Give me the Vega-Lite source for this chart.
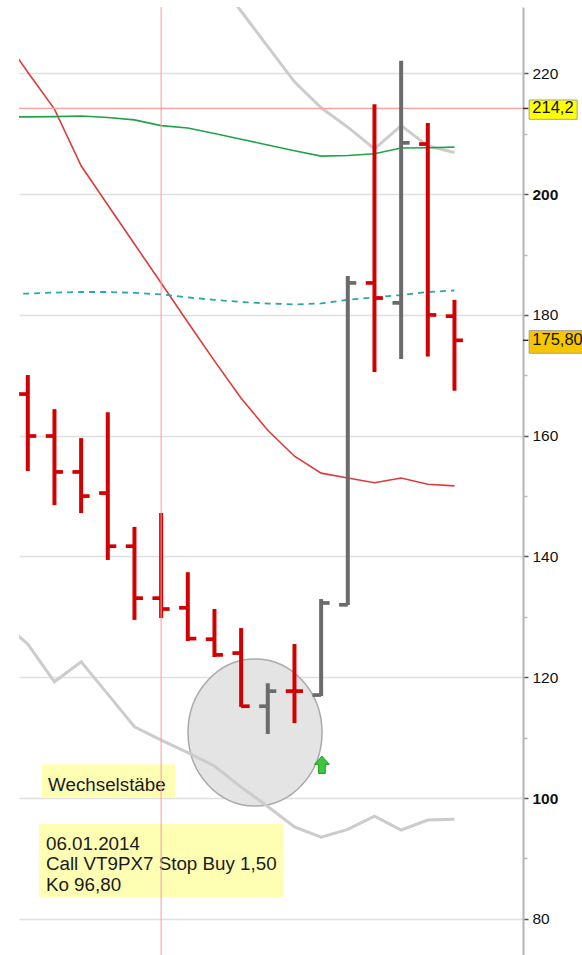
{
  "$schema": "https://vega.github.io/schema/vega-lite/v6.json",
  "width": 504,
  "height": 948,
  "autosize": {"type": "none"},
  "padding": {"left": 19, "top": 7, "right": 59, "bottom": 0},
  "background": "white",
  "config": {"view": {"stroke": null}, "font": "Liberation Sans"},
  "datasets": {
    "bars": [
      {"i": 0, "o": 166.9, "h": 170.05, "l": 154.15, "c": 159.95, "d": "down"},
      {"i": 1, "o": 159.95, "h": 164.4, "l": 148.5, "c": 154.0, "d": "down"},
      {"i": 2, "o": 154.0, "h": 159.6, "l": 147.2, "c": 150.0, "d": "down"},
      {"i": 3, "o": 150.5, "h": 163.9, "l": 139.4, "c": 141.7, "d": "down"},
      {"i": 4, "o": 141.7, "h": 144.9, "l": 129.5, "c": 133.1, "d": "down"},
      {"i": 5, "o": 133.1, "h": 147.2, "l": 129.8, "c": 131.3, "d": "down"},
      {"i": 6, "o": 131.5, "h": 137.4, "l": 126.0, "c": 126.4, "d": "down"},
      {"i": 7, "o": 126.3, "h": 131.3, "l": 123.35, "c": 123.7, "d": "down"},
      {"i": 8, "o": 124.0, "h": 128.15, "l": 115.1, "c": 115.2, "d": "down"},
      {"i": 9, "o": 115.2, "h": 119.0, "l": 110.6, "c": 117.7, "d": "up"},
      {"i": 10, "o": 117.7, "h": 125.5, "l": 112.4, "c": 117.7, "d": "down"},
      {"i": 11, "o": 117.05, "h": 132.95, "l": 116.9, "c": 132.3, "d": "up"},
      {"i": 12, "o": 132.0, "h": 186.45, "l": 131.96, "c": 185.3, "d": "up"},
      {"i": 13, "o": 185.3, "h": 214.9, "l": 170.55, "c": 182.8, "d": "down"},
      {"i": 14, "o": 182.0, "h": 222.1, "l": 172.7, "c": 208.5, "d": "up"},
      {"i": 15, "o": 208.3, "h": 211.8, "l": 173.1, "c": 180.0, "d": "down"},
      {"i": 16, "o": 179.8, "h": 182.5, "l": 167.45, "c": 175.8, "d": "down"}
    ],
    "lines": [
      {"s": "red", "i": -1, "v": 226.5}, {"s": "red", "i": 0, "v": 220.2}, {"s": "red", "i": 1, "v": 214.1},
      {"s": "red", "i": 2, "v": 204.7}, {"s": "red", "i": 3, "v": 198.2}, {"s": "red", "i": 4, "v": 191.75},
      {"s": "red", "i": 5, "v": 185.3}, {"s": "red", "i": 6, "v": 178.8}, {"s": "red", "i": 7, "v": 172.4},
      {"s": "red", "i": 8, "v": 166.2}, {"s": "red", "i": 9, "v": 160.9}, {"s": "red", "i": 10, "v": 156.6},
      {"s": "red", "i": 11, "v": 153.8}, {"s": "red", "i": 12, "v": 153.0}, {"s": "red", "i": 13, "v": 152.2},
      {"s": "red", "i": 14, "v": 153.0}, {"s": "red", "i": 15, "v": 151.95}, {"s": "red", "i": 16, "v": 151.7},
      {"s": "green", "i": -1, "v": 212.8}, {"s": "green", "i": 0, "v": 212.8}, {"s": "green", "i": 1, "v": 212.85},
      {"s": "green", "i": 2, "v": 212.95}, {"s": "green", "i": 3, "v": 212.7}, {"s": "green", "i": 4, "v": 212.3},
      {"s": "green", "i": 5, "v": 211.35}, {"s": "green", "i": 6, "v": 210.95}, {"s": "green", "i": 7, "v": 210.05},
      {"s": "green", "i": 8, "v": 209.1}, {"s": "green", "i": 9, "v": 208.15}, {"s": "green", "i": 10, "v": 207.2},
      {"s": "green", "i": 11, "v": 206.3}, {"s": "green", "i": 12, "v": 206.4}, {"s": "green", "i": 13, "v": 206.7},
      {"s": "green", "i": 14, "v": 207.65}, {"s": "green", "i": 15, "v": 207.7}, {"s": "green", "i": 16, "v": 207.8},
      {"s": "cyan", "i": -1, "v": 183.5}, {"s": "cyan", "i": 0, "v": 183.55}, {"s": "cyan", "i": 1, "v": 183.7},
      {"s": "cyan", "i": 2, "v": 183.8}, {"s": "cyan", "i": 3, "v": 183.8}, {"s": "cyan", "i": 4, "v": 183.65},
      {"s": "cyan", "i": 5, "v": 183.4}, {"s": "cyan", "i": 6, "v": 182.9}, {"s": "cyan", "i": 7, "v": 182.5},
      {"s": "cyan", "i": 8, "v": 182.15}, {"s": "cyan", "i": 9, "v": 181.9}, {"s": "cyan", "i": 10, "v": 181.75},
      {"s": "cyan", "i": 11, "v": 181.9}, {"s": "cyan", "i": 12, "v": 182.5}, {"s": "cyan", "i": 13, "v": 182.9},
      {"s": "cyan", "i": 14, "v": 183.3}, {"s": "cyan", "i": 15, "v": 183.8}, {"s": "cyan", "i": 16, "v": 184.05},
      {"s": "grayhi", "i": 7, "v": 236.1}, {"s": "grayhi", "i": 8, "v": 230.3}, {"s": "grayhi", "i": 9, "v": 224.45},
      {"s": "grayhi", "i": 10, "v": 218.6}, {"s": "grayhi", "i": 11, "v": 214.3}, {"s": "grayhi", "i": 12, "v": 211.1},
      {"s": "grayhi", "i": 13, "v": 207.5}, {"s": "grayhi", "i": 14, "v": 211.35}, {"s": "grayhi", "i": 15, "v": 208.0},
      {"s": "grayhi", "i": 16, "v": 206.9},
      {"s": "graylo", "i": -1, "v": 129.3}, {"s": "graylo", "i": 0, "v": 125.5}, {"s": "graylo", "i": 1, "v": 119.25},
      {"s": "graylo", "i": 2, "v": 122.55}, {"s": "graylo", "i": 3, "v": 117.2}, {"s": "graylo", "i": 4, "v": 111.8},
      {"s": "graylo", "i": 5, "v": 109.6}, {"s": "graylo", "i": 6, "v": 107.5}, {"s": "graylo", "i": 7, "v": 105.3},
      {"s": "graylo", "i": 8, "v": 101.8}, {"s": "graylo", "i": 9, "v": 98.6}, {"s": "graylo", "i": 10, "v": 95.2},
      {"s": "graylo", "i": 11, "v": 93.5}, {"s": "graylo", "i": 12, "v": 94.8}, {"s": "graylo", "i": 13, "v": 97.0},
      {"s": "graylo", "i": 14, "v": 94.7}, {"s": "graylo", "i": 15, "v": 96.35}, {"s": "graylo", "i": 16, "v": 96.5}
    ],
    "boxes": [
      {"x1": 0.53, "x2": 5.52, "y1": 105.6, "y2": 100.0},
      {"x1": 0.42, "x2": 9.57, "y1": 95.7, "y2": 83.6}
    ],
    "notes": [
      {"x": 0.76, "y": 101.2, "t": "Wechselstäbe"},
      {"x": 0.68, "y": 91.45, "t": "06.01.2014"},
      {"x": 0.68, "y": 88.0, "t": "Call VT9PX7 Stop Buy 1,50"},
      {"x": 0.68, "y": 84.6, "t": "Ko 96,80"}
    ],
    "tags": [
      {"x1": 18.8, "x2": 20.6, "y1": 215.6, "y2": 212.4, "v": 214.2, "t": "214,2", "k": "a"},
      {"x1": 18.8, "x2": 21.6, "y1": 177.4, "y2": 173.65, "v": 175.8, "t": "175,80", "k": "b"}
    ]
  },
  "layer": [
    {
      "data": {"values": [{"i": 8.52, "v": 110.85}]},
      "mark": {
        "type": "point",
        "shape": "M-1,0C-1,-0.606,-0.552,-1.097,0,-1.097C0.552,-1.097,1,-0.606,1,0C1,0.606,0.552,1.097,0,1.097C-0.552,1.097,-1,0.606,-1,0Z",
        "size": 17956,
        "filled": true,
        "fill": "#e2e2e2",
        "fillOpacity": 0.92,
        "stroke": "#aaaaaa",
        "strokeWidth": 1.5,
        "opacity": 1
      },
      "encoding": {
        "x": {"field": "i", "type": "quantitative", "scale": {"domain": [-0.33, 18.57], "nice": false, "zero": false}, "axis": null},
        "y": {
          "field": "v", "type": "quantitative",
          "scale": {"domain": [74, 231], "nice": false, "zero": false},
          "axis": {
            "orient": "right",
            "title": null,
            "values": [80, 90, 100, 110, 120, 130, 140, 150, 160, 170, 180, 190, 200, 210, 220],
            "domain": true,
            "domainColor": "#b4b4b4",
            "domainWidth": 2,
            "ticks": true,
            "tickColor": {"condition": {"test": "datum.value % 20 == 0", "value": "#555555"}, "value": "#bbbbbb"},
            "tickSize": {"condition": {"test": "datum.value % 20 == 0", "value": 5}, "value": 4},
            "tickWidth": 1.5,
            "labels": true,
            "labelExpr": "datum.value % 20 == 0 ? datum.label : ''",
            "labelFont": "Liberation Sans",
            "labelFontSize": 15.5,
            "labelColor": "#111111",
            "labelFontWeight": {"condition": {"test": "datum.value == 100 || datum.value == 200", "value": "bold"}, "value": "normal"},
            "labelPadding": 4,
            "labelBaseline": "middle",
            "labelFlush": false,
            "labelOverlap": false,
            "grid": true,
            "gridColor": "#e0e0e0",
            "gridOpacity": {"condition": {"test": "datum.value % 20 == 0", "value": 1}, "value": 0},
            "gridWidth": 1.5
          }
        }
      }
    },
    {
      "data": {"name": "lines"},
      "transform": [{"filter": "datum.s == 'grayhi' || datum.s == 'graylo'"}],
      "mark": {"type": "line", "clip": true, "color": "#cccccc", "strokeWidth": 3},
      "encoding": {
        "x": {"field": "i", "type": "quantitative", "scale": {"domain": [-0.33, 18.57], "nice": false, "zero": false}, "axis": null},
        "y": {"field": "v", "type": "quantitative", "scale": {"domain": [74, 231], "nice": false, "zero": false}},
        "detail": {"field": "s"}
      }
    },
    {
      "data": {"name": "lines"},
      "transform": [{"filter": "datum.s == 'red'"}],
      "mark": {"type": "line", "clip": true, "color": "#dd3b3b", "strokeWidth": 1.6},
      "encoding": {
        "x": {"field": "i", "type": "quantitative", "scale": {"domain": [-0.33, 18.57], "nice": false, "zero": false}, "axis": null},
        "y": {"field": "v", "type": "quantitative", "scale": {"domain": [74, 231], "nice": false, "zero": false}}
      }
    },
    {
      "data": {"name": "lines"},
      "transform": [{"filter": "datum.s == 'green'"}],
      "mark": {"type": "line", "clip": true, "color": "#22a24a", "strokeWidth": 1.6},
      "encoding": {
        "x": {"field": "i", "type": "quantitative", "scale": {"domain": [-0.33, 18.57], "nice": false, "zero": false}, "axis": null},
        "y": {"field": "v", "type": "quantitative", "scale": {"domain": [74, 231], "nice": false, "zero": false}}
      }
    },
    {
      "data": {"name": "lines"},
      "transform": [{"filter": "datum.s == 'cyan'"}],
      "mark": {"type": "line", "clip": true, "color": "#2aa7a7", "strokeWidth": 1.8, "strokeDash": [6, 5]},
      "encoding": {
        "x": {"field": "i", "type": "quantitative", "scale": {"domain": [-0.33, 18.57], "nice": false, "zero": false}, "axis": null},
        "y": {"field": "v", "type": "quantitative", "scale": {"domain": [74, 231], "nice": false, "zero": false}}
      }
    },
    {
      "data": {"values": [{"v": 214.2}]},
      "mark": {"type": "rule", "color": "#ff9c9c", "strokeWidth": 1.2},
      "encoding": {
        "y": {"field": "v", "type": "quantitative", "scale": {"domain": [74, 231], "nice": false, "zero": false}}
      }
    },
    {
      "data": {"name": "bars"},
      "mark": {"type": "rule", "strokeWidth": 4},
      "encoding": {
        "x": {"field": "i", "type": "quantitative", "scale": {"domain": [-0.33, 18.57], "nice": false, "zero": false}, "axis": null},
        "y": {"field": "l", "type": "quantitative", "scale": {"domain": [74, 231], "nice": false, "zero": false}},
        "y2": {"field": "h"},
        "color": {"field": "d", "type": "nominal", "scale": {"domain": ["down", "up"], "range": ["#d20000", "#6b6b6b"]}, "legend": null}
      }
    },
    {
      "data": {"name": "bars"},
      "mark": {"type": "rule", "strokeWidth": 3.7, "xOffset": -8.7, "x2Offset": 0},
      "encoding": {
        "x": {"field": "i", "type": "quantitative", "scale": {"domain": [-0.33, 18.57], "nice": false, "zero": false}, "axis": null},
        "x2": {"field": "i"},
        "y": {"field": "o", "type": "quantitative", "scale": {"domain": [74, 231], "nice": false, "zero": false}},
        "color": {"field": "d", "type": "nominal", "scale": {"domain": ["down", "up"], "range": ["#d20000", "#6b6b6b"]}, "legend": null}
      }
    },
    {
      "data": {"name": "bars"},
      "mark": {"type": "rule", "strokeWidth": 3.7, "xOffset": 0, "x2Offset": 8.5},
      "encoding": {
        "x": {"field": "i", "type": "quantitative", "scale": {"domain": [-0.33, 18.57], "nice": false, "zero": false}, "axis": null},
        "x2": {"field": "i"},
        "y": {"field": "c", "type": "quantitative", "scale": {"domain": [74, 231], "nice": false, "zero": false}},
        "color": {"field": "d", "type": "nominal", "scale": {"domain": ["down", "up"], "range": ["#d20000", "#6b6b6b"]}, "legend": null}
      }
    },
    {
      "data": {"values": [{"i": 11.03, "v": 105.5}]},
      "mark": {
        "type": "point",
        "shape": "M0,-1L0.85,-0.05L0.38,-0.05L0.38,1L-0.38,1L-0.38,-0.05L-0.85,-0.05Z",
        "size": 300,
        "filled": true,
        "fill": "#3cc83c",
        "stroke": "#169a16",
        "strokeWidth": 1,
        "opacity": 1
      },
      "encoding": {
        "x": {"field": "i", "type": "quantitative", "scale": {"domain": [-0.33, 18.57], "nice": false, "zero": false}, "axis": null},
        "y": {"field": "v", "type": "quantitative", "scale": {"domain": [74, 231], "nice": false, "zero": false}}
      }
    },
    {
      "data": {"name": "boxes"},
      "mark": {"type": "rect", "color": "#ffffb4", "opacity": 1},
      "encoding": {
        "x": {"field": "x1", "type": "quantitative", "scale": {"domain": [-0.33, 18.57], "nice": false, "zero": false}, "axis": null},
        "x2": {"field": "x2"},
        "y": {"field": "y1", "type": "quantitative", "scale": {"domain": [74, 231], "nice": false, "zero": false}},
        "y2": {"field": "y2"}
      }
    },
    {
      "data": {"name": "notes"},
      "mark": {"type": "text", "align": "left", "baseline": "alphabetic", "font": "Liberation Sans", "fontSize": 18.8, "color": "#1a1a1a"},
      "encoding": {
        "x": {"field": "x", "type": "quantitative", "scale": {"domain": [-0.33, 18.57], "nice": false, "zero": false}, "axis": null},
        "y": {"field": "y", "type": "quantitative", "scale": {"domain": [74, 231], "nice": false, "zero": false}},
        "text": {"field": "t"}
      }
    },
    {
      "data": {"values": [{"i": 5}]},
      "mark": {"type": "rule", "color": "#ff9a9a", "strokeWidth": 1.3, "opacity": 0.8},
      "encoding": {
        "x": {"field": "i", "type": "quantitative", "scale": {"domain": [-0.33, 18.57], "nice": false, "zero": false}, "axis": null}
      }
    },
    {
      "data": {"name": "tags"},
      "mark": {"type": "rect", "clip": false, "stroke": "#a0a0a0", "strokeWidth": 1},
      "encoding": {
        "x": {"field": "x1", "type": "quantitative", "scale": {"domain": [-0.33, 18.57], "nice": false, "zero": false}, "axis": null},
        "x2": {"field": "x2"},
        "y": {"field": "y1", "type": "quantitative", "scale": {"domain": [74, 231], "nice": false, "zero": false}},
        "y2": {"field": "y2"},
        "fill": {"field": "k", "type": "nominal", "scale": {"domain": ["a", "b"], "range": ["#ffff00", "#f7c600"]}, "legend": null}
      }
    },
    {
      "data": {"name": "tags"},
      "mark": {"type": "rule", "clip": false, "color": "#333333", "strokeWidth": 1.5},
      "encoding": {
        "x": {"datum": 18.57, "type": "quantitative", "scale": {"domain": [-0.33, 18.57], "nice": false, "zero": false}, "axis": null},
        "x2": {"datum": 18.77},
        "y": {"field": "v", "type": "quantitative", "scale": {"domain": [74, 231], "nice": false, "zero": false}}
      }
    },
    {
      "data": {"name": "tags"},
      "mark": {"type": "text", "clip": false, "align": "left", "baseline": "middle", "font": "Liberation Sans", "fontSize": 16.5, "color": "#111111"},
      "encoding": {
        "x": {"datum": 18.92, "type": "quantitative", "scale": {"domain": [-0.33, 18.57], "nice": false, "zero": false}, "axis": null},
        "y": {"field": "v", "type": "quantitative", "scale": {"domain": [74, 231], "nice": false, "zero": false}},
        "text": {"field": "t"}
      }
    }
  ]
}
